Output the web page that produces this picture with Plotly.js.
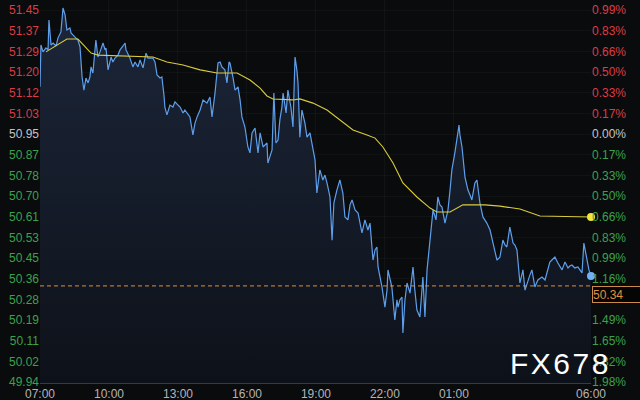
<!DOCTYPE html>
<html>
<head>
<meta charset="utf-8">
<script src="https://cdn.plot.ly/plotly-3.0.1.min.js"></script>
<style>
  html, body { margin: 0; padding: 0; background: #0a0b0d; }
  #chart { width: 640px; height: 400px; }
</style>
</head>
<body>
<div id="chart"></div>
<script>
// ---- Data (hours since 07:00, price) ----
const times = [
  0.00,0.04,0.13,0.26,0.35,0.39,0.48,0.57,0.70,0.78,0.91,1.00,1.09,1.17,1.30,1.35,1.43,1.57,1.65,1.74,
  1.78,1.83,1.91,2.00,2.09,2.17,2.22,2.30,2.43,2.52,2.61,2.74,2.83,2.87,2.96,3.09,3.17,3.26,3.39,3.48,
  3.61,3.70,3.74,3.83,3.91,4.04,4.13,4.26,4.35,4.48,4.61,4.70,4.78,
  4.91,5.00,5.09,5.22,5.30,5.39,5.43,5.52,5.65,5.78,5.87,5.96,6.09,6.22,6.30,6.39,6.52,6.65,6.74,6.83,
  6.96,7.09,7.17,7.26,7.39,7.48,7.61,7.74,7.83,7.91,8.04,8.13,8.22,8.26,8.39,8.48,8.61,8.70,8.78,8.91,
  9.04,9.13,9.22,9.35,9.48,9.57,
  9.70,9.78,9.87,9.91,10.00,10.09,10.17,10.26,10.35,10.43,10.52,10.57,10.65,10.70,10.78,10.87,10.91,
  11.00,11.09,11.17,11.22,11.30,11.39,11.52,11.61,11.74,11.87,11.96,12.04,12.17,12.30,12.39,12.48,12.61,
  12.70,12.78,12.91,13.04,13.17,13.26,13.39,13.48,13.57,13.70,13.83,14.00,14.13,14.26,14.35,14.43,
  14.48,14.57,14.65,14.70,14.78,14.87,15.00,15.09,15.13,15.22,15.30,15.43,15.52,15.57,15.65,15.74,15.78,
  15.87,15.96,16.09,16.22,16.30,16.39,16.52,16.65,16.74,16.83,16.96,17.09,17.22,17.30,17.39,17.48,17.61,
  17.74,17.83,17.91,18.04,18.13,18.22,18.26,18.35,18.48,18.61,18.70,18.78,18.91,19.00,19.13,19.26,
  19.43,19.57,19.70,19.78,19.87,20.00,20.13,20.22,20.30,20.43,20.57,20.65,20.74,20.87,21.00,21.09,21.22,
  21.30,21.39,21.52,21.65,21.74,21.83,21.96,22.09,22.17,22.26,22.39,22.52,22.61,22.70,22.83,22.96,23.04,
  23.13,23.26,23.39,23.48,23.57,23.65,23.78,23.87,23.96
];
const prices = [
  51.138,51.308,51.280,51.296,51.288,51.409,51.308,51.316,51.304,51.336,51.361,51.458,51.430,51.369,51.377,51.357,51.349,51.336,51.328,51.300,
  51.247,51.178,51.125,51.174,51.154,51.178,51.219,51.194,51.328,51.259,51.280,51.316,51.288,51.296,51.207,51.259,51.239,51.255,51.267,51.288,
  51.304,51.316,51.288,51.271,51.255,51.219,51.239,51.219,51.247,51.215,51.275,51.255,51.255,
  51.255,51.239,51.186,51.174,51.178,51.105,51.056,51.024,51.064,51.056,51.077,51.068,51.056,51.032,51.044,51.032,51.016,50.943,50.991,51.016,
  51.044,51.085,51.077,51.072,51.097,51.016,51.113,51.235,51.239,51.219,51.207,51.154,51.239,51.235,51.178,51.125,51.138,51.085,51.016,50.975,
  50.894,50.870,50.951,50.971,50.870,50.951,
  50.894,50.902,50.910,50.829,50.861,50.882,51.113,50.910,50.922,51.004,51.056,51.113,51.064,51.032,51.125,51.085,51.056,
  50.975,51.259,51.207,51.154,50.934,51.044,50.991,50.934,50.951,50.882,50.841,50.707,50.801,50.760,50.780,50.748,50.691,
  50.516,50.667,50.719,50.760,50.707,50.610,50.598,50.659,50.679,50.638,50.626,50.545,50.598,50.557,50.585,50.504,
  50.435,50.476,50.488,50.407,50.374,50.326,50.244,50.313,50.395,50.354,50.326,50.192,50.273,50.244,50.273,50.285,50.139,
  50.273,50.342,50.301,50.407,50.313,50.232,50.204,50.366,50.204,50.395,50.516,50.638,50.598,50.691,50.659,50.650,50.585,
  50.638,50.719,50.801,50.870,50.934,50.983,50.943,50.894,50.772,50.719,50.699,50.679,50.748,50.760,50.667,50.610,
  50.585,50.557,50.504,50.476,50.435,50.447,50.516,50.496,50.488,50.569,50.504,50.496,50.476,50.342,50.395,50.313,50.354,
  50.374,50.395,50.326,50.354,50.362,50.366,50.354,50.407,50.427,50.435,50.447,50.423,50.411,50.395,50.427,50.403,50.411,
  50.415,50.403,50.407,50.395,50.383,50.504,50.435,50.395,50.370
];
const avgTimes = [
  0.26,0.78,1.17,1.65,1.96,2.22,2.52,3.48,4.91,5.52,6.22,6.96,7.70,8.57,9.13,9.57,9.87,10.13,11.00,11.30,
  11.87,12.48,13.04,13.61,14.22,14.57,14.91,15.35,15.78,16.39,16.96,17.26,17.83,18.39,19.35,20.00,20.87,21.43,21.74,23.96
];
const avgPrices = [
  51.280,51.308,51.332,51.332,51.300,51.275,51.267,51.263,51.259,51.239,51.227,51.207,51.194,51.194,51.166,51.133,51.101,51.089,51.085,51.089,
  51.072,51.044,51.004,50.963,50.943,50.930,50.894,50.829,50.748,50.691,50.646,50.630,50.630,50.659,50.659,50.654,50.642,50.626,50.614,50.610
];
const xTickVals = [0, 3, 6, 9, 12, 15, 18, 23.96];
const xTickLabels = ['07:00','10:00','13:00','16:00','19:00','22:00','01:00','06:00'];
const priceTickLabels = ['51.45','51.37','51.29','51.20','51.12','51.03','50.95','50.87','50.78','50.70',
  '50.61','50.53','50.45','50.36','50.28','50.19','50.11','50.02','49.94'];
const pctTickLabels = ['0.99%','0.83%','0.66%','0.50%','0.33%','0.17%','0.00%','0.17%','0.33%','0.50%',
  '0.66%','0.83%','0.99%','1.16%','1.32%','1.49%','1.65%','1.82%','1.98%'];
const prevClose = 50.95;
const refPrice = 50.33;
const refLabel = '50.34';
const hiddenPctLabel = '1.32%'; // covered by the price box in the reference

// ---- Styling ----
const RED = '#dc3c44', GREEN = '#3aa24c', GREY = '#c4c4c4';
const yTop = 51.45, yBot = 49.94;
const step = (yTop - yBot) / (priceTickLabels.length - 1);
const tickVals = priceTickLabels.map((_, i) => yTop - i * step);
const colorFor = (lbl) => {
  const v = parseFloat(lbl);
  return v > prevClose + 1e-9 ? RED : (Math.abs(v - prevClose) < 1e-9 ? GREY : GREEN);
};
const leftText = priceTickLabels.map(l => `<span style="color:${colorFor(l)}">${l}</span>`);
const rightText = pctTickLabels.map((l, i) => {
  const c = l === hiddenPctLabel ? 'rgba(0,0,0,0)' : colorFor(priceTickLabels[i]);
  return `<span style="color:${c}">${l}</span>`;
});
const yRange = [yBot - step / 20.67, yTop + 10 * step / 20.67];

const traces = [
  {
    x: times, y: prices, type: 'scatter', mode: 'lines',
    line: { color: '#5e9fec', width: 1.2 },
    fill: 'tozeroy',
    fillgradient: { type: 'vertical', start: yBot, stop: yTop,
      colorscale: [[0, '#0d1119'], [1, '#1c2639']] },
    hoverinfo: 'skip'
  },
  {
    x: avgTimes, y: avgPrices, type: 'scatter', mode: 'lines',
    line: { color: '#d9cb3c', width: 1.1 }, hoverinfo: 'skip'
  },
  {
    x: [times[times.length - 1], avgTimes[avgTimes.length - 1]],
    y: [prices[prices.length - 1], avgPrices[avgPrices.length - 1]],
    yaxis: 'y2', type: 'scatter', mode: 'markers',
    marker: { color: ['#6fb1f7', '#f2e53c'], size: 8 },
    cliponaxis: false, hoverinfo: 'skip'
  }
];

const layout = {
  width: 640, height: 400,
  margin: { l: 40, r: 49, t: 0, b: 17 },
  paper_bgcolor: '#0a0b0d', plot_bgcolor: '#0a0b0d',
  showlegend: false,
  font: { family: 'Liberation Sans, Arial, sans-serif', size: 12, color: '#b0b0b0' },
  xaxis: {
    range: [0, 23.96], tickvals: xTickVals, ticktext: xTickLabels,
    showgrid: true, gridcolor: 'rgba(255,255,255,0.035)', zeroline: false,
    showline: true, linecolor: '#3a3a3a', linewidth: 1,
    ticks: '', tickfont: { color: '#b4b4b4', size: 12 }, fixedrange: true
  },
  yaxis: {
    range: yRange, tickvals: tickVals, ticktext: leftText,
    showgrid: true, gridcolor: 'rgba(255,255,255,0.03)', zeroline: false,
    ticks: '', tickfont: { size: 12 }, fixedrange: true
  },
  yaxis2: {
    overlaying: 'y', side: 'right', range: yRange, tickvals: tickVals, ticktext: rightText,
    showgrid: false, zeroline: false, ticks: '', tickfont: { size: 12 }, fixedrange: true
  },
  shapes: [
    { type: 'line', xref: 'paper', x0: 0, x1: 1, yref: 'y', y0: refPrice, y1: refPrice,
      line: { color: '#d98c3e', width: 1, dash: '4px,3px' } }
  ],
  annotations: [
    { xref: 'paper', x: 1, xanchor: 'left', xshift: 1, yref: 'y', y: refPrice, yanchor: 'top',
      text: refLabel, showarrow: false, align: 'left', width: 52, height: 15,
      bgcolor: '#050505', bordercolor: '#c98a4a', borderwidth: 1, borderpad: 0,
      font: { color: '#e0903e', size: 12 } },
    { xref: 'paper', x: 0.942, xanchor: 'center', yref: 'paper', y: 0.05, yanchor: 'middle',
      text: 'F\u200AX\u200A6\u200A7\u200A8', showarrow: false,
      font: { color: '#ffffff', size: 30, family: 'Liberation Sans, Arial, sans-serif' } }
  ]
};

Plotly.newPlot('chart', traces, layout, { staticPlot: true, displayModeBar: false });
</script>
</body>
</html>
